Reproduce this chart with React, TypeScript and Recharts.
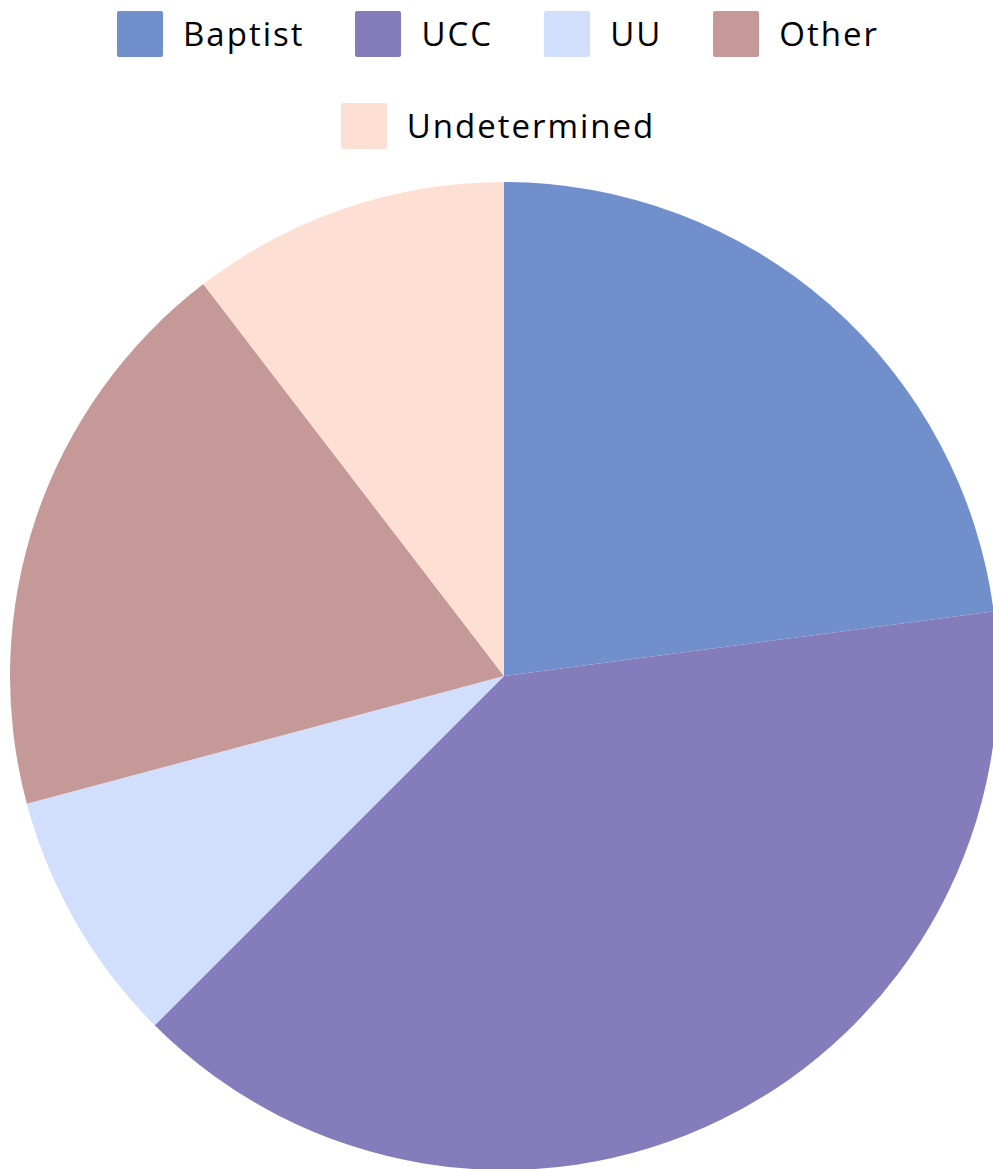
import React from 'react';
import { PieChart, Pie, Cell, Legend } from 'recharts';

const groups = ['Baptist', 'UCC', 'UU', 'Other', 'Undetermined'];
const counts = [11, 19, 4, 9, 5];
const colors = ['#7190cb', '#847cbb', '#d1dffd', '#c59997', '#fedfd4'];

const data = groups.map((name, i) => ({ name, value: counts[i] }));

const FONT = '"Open Sans", sans-serif';

function LegendContent() {
  return (
    <div
      style={{
        display: 'flex',
        flexWrap: 'wrap',
        justifyContent: 'center',
        columnGap: 51,
        rowGap: 46,
        fontFamily: FONT,
        fontSize: 33,
        letterSpacing: 2,
        color: '#000',
      }}
    >
      {groups.map((g, i) => (
        <div key={g} style={{ display: 'flex', alignItems: 'center', height: 46, lineHeight: '46px' }}>
          <span
            style={{
              width: 46,
              height: 46,
              background: colors[i],
              borderRadius: 2,
              marginRight: 20,
              display: 'inline-block',
            }}
          />
          <span>{g}</span>
        </div>
      ))}
    </div>
  );
}

export default function App() {
  return (
    <div style={{ position: 'absolute', left: 0, top: 0, width: 993, height: 1169, background: '#fff' }}>
      <PieChart width={993} height={1169} margin={{ top: 0, right: 0, bottom: 0, left: 0 }}>
        <Legend
          layout="horizontal"
          verticalAlign="middle"
          align="center"
          content={<LegendContent />}
          wrapperStyle={{ top: 11, left: 78, width: 840 }}
        />
        <Pie
          data={data}
          dataKey="value"
          nameKey="name"
          cx={504}
          cy={676}
          outerRadius={494}
          startAngle={90}
          endAngle={-270}
          stroke="none"
          isAnimationActive={false}
        >
          {data.map((d, i) => (
            <Cell key={d.name} fill={colors[i]} />
          ))}
        </Pie>
      </PieChart>
    </div>
  );
}
